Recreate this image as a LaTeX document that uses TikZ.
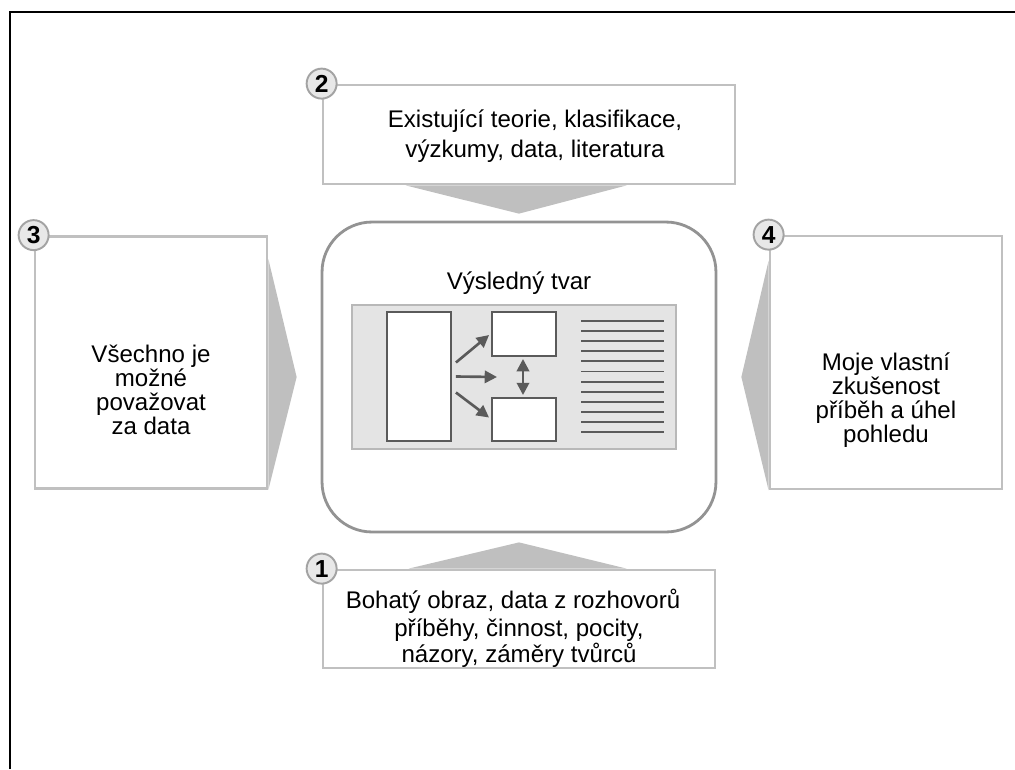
\documentclass[tikz,border=0pt]{standalone}
\usepackage{fontspec}
\setmainfont{Liberation Sans}
\usepackage{xcolor}
\usetikzlibrary{calc, positioning, backgrounds, arrows.meta}

\definecolor{boxgray}{HTML}{C0C0C0}
\definecolor{pointgray}{HTML}{BFBFBF}
\definecolor{coregray}{HTML}{939393}
\definecolor{inkgray}{HTML}{5A5A5A}
\definecolor{panelgray}{HTML}{E4E4E4}

\begin{document}
\begin{tikzpicture}[x=0.02cm,y=-0.02cm,
                    font=\fontsize{13.7}{13.6}\selectfont,
                    info box/.style={rectangle,draw=boxgray,line width=1.6pt,fill=white},
                    badge/.style={circle,draw=boxgray!85!black,line width=1.1pt,fill=black!9,inner sep=0pt,minimum size=0.6cm,font=\bfseries\fontsize{14}{14}\selectfont},
                    pointer/.style={fill=pointgray},
                    small box/.style={rectangle,draw=inkgray,line width=1.1pt,fill=white},
                    flow/.style={draw=inkgray,line width=1.5pt,-{Triangle[length=7pt,width=7pt]}}]

  \useasboundingbox (0,0) rectangle (1015,769);

  % frame
  \draw[line width=0.8pt] (10,769) -- (10,12) -- (1015,12);

  % boxes
  \node[info box,minimum width=8.24cm,minimum height=1.98cm] (b2) at (529,134.5) {};
  \node[info box,minimum width=4.64cm,minimum height=5.04cm] (b3) at (151,362.5) {};
  \node[info box,minimum width=4.64cm,minimum height=5.06cm] (b4) at (886,362.5) {};
  \node[info box,minimum width=7.84cm,minimum height=1.96cm] (b1) at (519,619) {};

  \node[rectangle,rounded corners=1cm,draw=coregray,line width=1.6pt,minimum width=7.88cm,minimum height=6.2cm] (core) at (519,377) {};

  % pointers
  \begin{scope}[on background layer]
    \fill[pointer] ($(b2.south west)+(84,0)$) -- ($(b2.south west)+(305,0)$) -- ($(core.north)+(0,-7)$) -- cycle;
    \fill[pointer] ($(b1.north west)+(87,0)$) -- ($(b1.north west)+(305,0)$) -- ($(core.south)+(0,9)$) -- cycle;
    \fill[pointer] ($(b3.north east)+(0,24)$) -- (b3.south east) -- ($(core.west)+(-24,0)$) -- cycle;
    \fill[pointer] ($(b4.north west)+(0,26)$) -- (b4.south west) -- ($(core.east)+(24,0)$) -- cycle;
  \end{scope}

  % texts
  \node[align=center,font=\fontsize{13.7}{17}\selectfont] (t2) at (535,136) {Existující teorie, klasifikace,\\výzkumy, data, literatura};
  \node[align=center] (t3) at (151,390) {Všechno je\\možné\\považovat\\za data};
  \node[align=center] (t4) at (886,400) {Moje vlastní\\zkušenost\\příběh a úhel\\pohledu};
  \node (t1a) at (513,601) {Bohatý obraz, data z rozhovorů};
  \node[align=center] (t1b) at (519,643) {příběhy, činnost, pocity,\\názory, záměry tvůrců};
  \node (tc) at (519,283) {Výsledný tvar};

  % inner sketch
  \node[rectangle,draw=black!28,line width=1pt,fill=panelgray,minimum width=6.48cm,minimum height=2.88cm] (panel) at (514,377) {};
  \node[small box,minimum width=1.28cm,minimum height=2.58cm] (lr) at (419,376.5) {};
  \node[small box,minimum width=1.28cm,minimum height=0.88cm] (tr) at (524,334) {};
  \node[small box,minimum width=1.28cm,minimum height=0.86cm] (br) at (524,419.5) {};
  \coordinate (mid) at (497,377);

  \draw[flow] ($(lr.east)+(4,-14)$) -- ($(tr.west)+(-2,1)$);
  \draw[flow] ($(lr.east)+(4,0)$) -- (mid);
  \draw[flow] ($(lr.east)+(4,16)$) -- ($(br.west)+(-2,-2)$);
  \draw[flow,{Triangle[length=7pt,width=7pt]}-{Triangle[length=7pt,width=7pt]}] ($(tr.south)+(-1,2)$) -- ($(br.north)+(-1,-2)$);

  \foreach \i in {0,...,11}
    \draw[inkgray,line width=1.1pt] (581,321+10.1*\i) -- (664,321+10.1*\i);

  % badges
  \node[badge] (n2) at (b2.north west) {2};
  \node[badge] (n3) at (b3.north west) {3};
  \node[badge] (n4) at (b4.north west) {4};
  \node[badge] (n1) at (b1.north west) {1};

\end{tikzpicture}
\end{document}
